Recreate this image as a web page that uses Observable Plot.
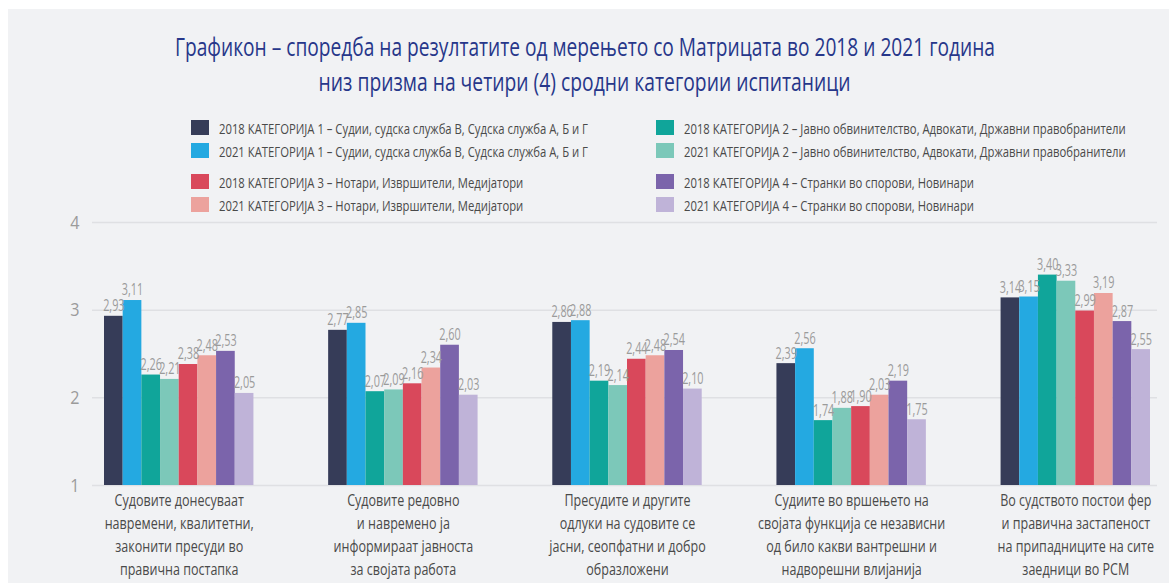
<!DOCTYPE html>
<html>
<head>
<meta charset="utf-8">
<script src="https://cdn.jsdelivr.net/npm/d3@7"></script>
<script src="https://cdn.jsdelivr.net/npm/@observablehq/plot@0.6"></script>
<style>
  html, body { margin: 0; padding: 0; background: #ffffff; }
  body { width: 1169px; height: 583px; overflow: hidden; position: relative;
         font-family: "Open Sans", "Noto Sans", sans-serif; }
  #panel { position: absolute; left: 8px; top: 9px; right: 0; bottom: 0; background: #f1f2f4; }
  #title { position: absolute; left: 0; top: 29px; width: 1169px; text-align: center; color: #27378a;
           font-size: 25px; line-height: 35px; }
  #title span { display: inline-block; transform-origin: center; white-space: nowrap; }
  #legend { position: absolute; left: 0; top: 0; width: 1169px; height: 220px; }
  .lg { position: absolute; display: flex; align-items: center; font-size: 15px; color: #4a4a4a; white-space: nowrap; }
  .sw { width: 18px; height: 15px; margin-right: 10px; flex: none; }
  .lt { display: inline-block; transform-origin: left center; }
  #chart { position: absolute; left: 0; top: 212px; }
</style>
</head>
<body>
<div id="panel"></div>
<div id="title"></div>
<div id="legend"></div>
<div id="chart"></div>
<script>
const titleLines = [
  "Графикон – споредба на резултатите од мерењето со Матрицата во 2018 и 2021 година",
  "низ призма на четири (4) сродни категории испитаници"
];

const groups = [
  "Судовите донесуваат\nнавремени, квалитетни,\nзаконити пресуди во\nправична постапка",
  "Судовите редовно\nи навремено ја\nинформираат јавноста\nза својата работа",
  "Пресудите и другите\nодлуки на судовите се\nјасни, сеопфатни и добро\nобразложени",
  "Судиите во вршењето на\nсвојата функција се независни\nод било какви вантрешни и\nнадворешни влијанија",
  "Во судството постои фер\nи правична застапеност\nна припадниците на сите\nзаедници во РСМ"
];

const seriesNames = [
  "2018 КАТЕГОРИЈА 1 – Судии, судска служба В, Судска служба А, Б и Г",
  "2021 КАТЕГОРИЈА 1 – Судии, судска служба В, Судска служба А, Б и Г",
  "2018 КАТЕГОРИЈА 2 – Јавно обвинителство, Адвокати, Државни правобранители",
  "2021 КАТЕГОРИЈА 2 – Јавно обвинителство, Адвокати, Државни правобранители",
  "2018 КАТЕГОРИЈА 3 – Нотари, Извршители, Медијатори",
  "2021 КАТЕГОРИЈА 3 – Нотари, Извршители, Медијатори",
  "2018 КАТЕГОРИЈА 4 – Странки во спорови, Новинари",
  "2021 КАТЕГОРИЈА 4 – Странки во спорови, Новинари"
];

const seriesColors = ["#363c58", "#24a9e1", "#10a59a", "#7cc8b9", "#d9485b", "#eca29d", "#7b64ab", "#bfb3d8"];

const k1_2018 = [2.93, 2.77, 2.86, 2.39, 3.14];
const k1_2021 = [3.11, 2.85, 2.88, 2.56, 3.15];
const k2_2018 = [2.26, 2.07, 2.19, 1.74, 3.40];
const k2_2021 = [2.21, 2.09, 2.14, 1.88, 3.33];
const k3_2018 = [2.38, 2.16, 2.44, 1.90, 2.99];
const k3_2021 = [2.48, 2.34, 2.48, 2.03, 3.19];
const k4_2018 = [2.53, 2.60, 2.54, 2.19, 2.87];
const k4_2021 = [2.05, 2.03, 2.10, 1.75, 2.55];

const yTicks = [1, 2, 3, 4];

// ---- build
const seriesValues = [k1_2018, k1_2021, k2_2018, k2_2021, k3_2018, k3_2021, k4_2018, k4_2021];
const data = [];
groups.forEach((g, gi) => seriesValues.forEach((vals, si) => {
  data.push({key: `${gi}|${si}`, group: gi, series: seriesNames[si], value: vals[gi]});
}));
const domain = [];
groups.forEach((g, gi) => {
  for (let si = 0; si < 8; si++) domain.push(`${gi}|${si}`);
  if (gi < groups.length - 1) for (let k = 0; k < 4; k++) domain.push(`${gi}|gap${k}`);
});
const xRange = [104, 1150];
const step = (xRange[1] - xRange[0]) / domain.length;
const labelRows = groups.map((g, gi) => ({key: `${gi}|3`, text: g}));

// title
const titleEl = document.getElementById("title");
titleLines.forEach((t, i) => {
  const s = document.createElement("span");
  s.textContent = t;
  titleEl.appendChild(s);
  if (i < titleLines.length - 1) titleEl.appendChild(document.createElement("br"));
});
const titleTarget = [820, 532];
titleEl.querySelectorAll("span").forEach((s, i) => {
  const w = s.getBoundingClientRect().width;
  s.style.transform = `scaleX(${titleTarget[i] / w})`;
});

// legend: two columns, series pairs
const legendPos = [
  [191, 121], [191, 144], [656, 121], [656, 144],
  [191, 175], [191, 198], [656, 175], [656, 198]
];
const lg = document.getElementById("legend");
seriesNames.forEach((n, i) => {
  const d = document.createElement("div");
  d.className = "lg";
  d.style.left = legendPos[i][0] + "px";
  d.style.top = (legendPos[i][1] - 1) + "px";
  d.innerHTML = `<span class="sw" style="background:${seriesColors[i]}"></span><span class="lt">${n}</span>`;
  lg.appendChild(d);
});
const lts = lg.querySelectorAll(".lt");
const legendFactor = 369 / lts[0].getBoundingClientRect().width;
lts.forEach(s => s.style.transform = `scaleX(${legendFactor})`);
lg.querySelectorAll(".lg").forEach(d => d.style.height = "15px");

const fmt = v => v.toFixed(2).replace(".", ",");
const font = '"Open Sans", "Noto Sans", sans-serif';

const chart = Plot.plot({
  width: 1169,
  height: 371,
  marginLeft: 92,
  marginRight: 12,
  marginTop: 10,
  marginBottom: 98,
  style: {background: "transparent", fontFamily: font, overflow: "visible"},
  x: {domain, range: xRange, padding: 0, axis: null},
  y: {domain: [1, 4], axis: null},
  color: {domain: seriesNames, range: seriesColors},
  marks: [
    Plot.ruleY(yTicks, {y: d => d, stroke: "#dfe0e3", strokeWidth: 1.5}),
    Plot.text(yTicks, {y: d => d, text: d => String(d), frameAnchor: "left", textAnchor: "end", dx: -13,
      fontSize: 19, fill: "#9b9b9b", className: "ytick"}),
    Plot.barY(data, {x: "key", y1: 1, y2: "value", fill: "series", inset: 0}),
    Plot.text(data, {x: "key", y: "value", text: d => fmt(d.value), dy: -10, fontSize: 15.5, fill: "#9b9b9b",
      className: "vlabel"}),
    Plot.text(labelRows, {x: "key", y: 1, text: "text", dx: step / 2, dy: 4, lineAnchor: "top",
      lineHeight: 1.4, fontSize: 16.5, fill: "#4a4a4a", className: "glabel"})
  ]
});
document.getElementById("chart").appendChild(chart);

// condense SVG text (the reference uses a condensed face)
function condense(sel, f) {
  chart.querySelectorAll(sel + " text").forEach(t => {
    const tr = t.getAttribute("transform");
    if (tr) t.setAttribute("transform", tr + ` scale(${f},1)`);
    else {
      const x = +(t.getAttribute("x") || 0), y = +(t.getAttribute("y") || 0);
      t.removeAttribute("x"); t.removeAttribute("y");
      t.setAttribute("transform", `translate(${x},${y}) scale(${f},1)`);
    }
  });
}
condense(".vlabel", 0.7);
condense(".glabel", 0.76);
condense(".ytick", 0.85);
</script>
</body>
</html>
